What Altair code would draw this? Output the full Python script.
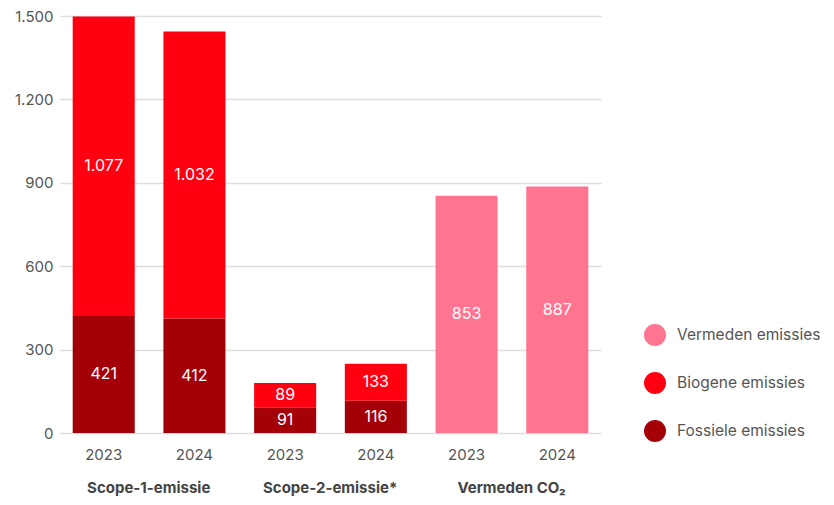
import altair as alt
import pandas as pd

groups = ["Scope-1-emissie", "Scope-1-emissie", "Scope-2-emissie*", "Scope-2-emissie*", "Vermeden CO₂", "Vermeden CO₂"]
years = ["2023", "2024", "2023", "2024", "2023", "2024"]
fossiele = [421, 412, 91, 116, 0, 0]
biogene = [1077, 1032, 89, 133, 0, 0]
vermeden = [0, 0, 0, 0, 853, 887]

series_names = ["Vermeden emissies", "Biogene emissies", "Fossiele emissies"]
series_colors = ["#FF7591", "#FF0010", "#A30008"]
group_labels = ["Scope-1-emissie", "Scope-2-emissie*", "Vermeden CO₂"]

rows = []
keys = []
for g, yr, f, b, v in zip(groups, years, fossiele, biogene, vermeden):
    key = g + "|" + yr
    keys.append(key)
    for name, val, o in [("Fossiele emissies", f, 0), ("Biogene emissies", b, 1), ("Vermeden emissies", v, 2)]:
        if val:
            rows.append({"key": key, "type": name, "value": val, "ord": o})
df = pd.DataFrame(rows)

first_keys = [keys[groups.index(g)] for g in group_labels]
gdf = pd.DataFrame({"key": first_keys, "label": group_labels})

FONT = "Inter"
W, H = 541, 417

xscale = alt.Scale(domain=keys, paddingInner=0.316, paddingOuter=0.14)
yscale = alt.Scale(domain=[0, 1500])

base = alt.Chart(df).transform_stack(
    stack="value", groupby=["key"], as_=["y0", "y1"],
    sort=[alt.SortField("ord", order="ascending")]
).transform_calculate(
    mid="(datum.y0 + datum.y1) / 2",
    lab="replace(format(datum.value, ','), ',', '.')"
)

bars = base.mark_bar().encode(
    x=alt.X("key:N", scale=xscale, title=None,
            axis=alt.Axis(labelExpr="split(datum.value, '|')[1]", labelAngle=0,
                          domain=False, ticks=False, labelPadding=14,
                          labelFontSize=15, labelColor="#555555", labelFont=FONT)),
    y=alt.Y("y0:Q", scale=yscale, title=None,
            axis=alt.Axis(values=[0, 300, 600, 900, 1200, 1500],
                          labelExpr="replace(format(datum.value, ','), ',', '.')",
                          domain=False, ticks=False, labelPadding=7, grid=True,
                          gridColor="#dddddd", gridWidth=1.5,
                          labelFontSize=15, labelColor="#555555", labelFont=FONT)),
    y2="y1:Q",
    color=alt.Color("type:N", scale=alt.Scale(domain=series_names, range=series_colors),
                    legend=alt.Legend(title=None, orient="none", legendX=584, legendY=308,
                                      symbolType="circle", symbolSize=484, symbolStrokeWidth=0,
                                      rowPadding=26, labelFontSize=15.5, labelColor="#555555",
                                      labelFont=FONT, labelOffset=11, padding=0)),
)

texts = base.mark_text(color="white", fontSize=16, font=FONT, baseline="middle").encode(
    x=alt.X("key:N", scale=xscale),
    y=alt.Y("mid:Q", scale=yscale),
    text="lab:N",
)

glabels = alt.Chart(gdf).mark_text(
    fontSize=15, font=FONT, fontWeight="bold", color="#444444", baseline="middle", dx=45
).encode(
    x=alt.X("key:N", scale=xscale),
    y=alt.value(472),
    text="label:N",
)

chart = alt.layer(bars, texts, glabels).properties(
    width=W, height=H,
    autosize=alt.AutoSizeParams(type="none"),
    padding={"left": 52, "top": 8, "right": 225, "bottom": 64},
).configure_view(stroke=None)

chart.save("out.html", embed_options={"renderer": "svg", "actions": False})
